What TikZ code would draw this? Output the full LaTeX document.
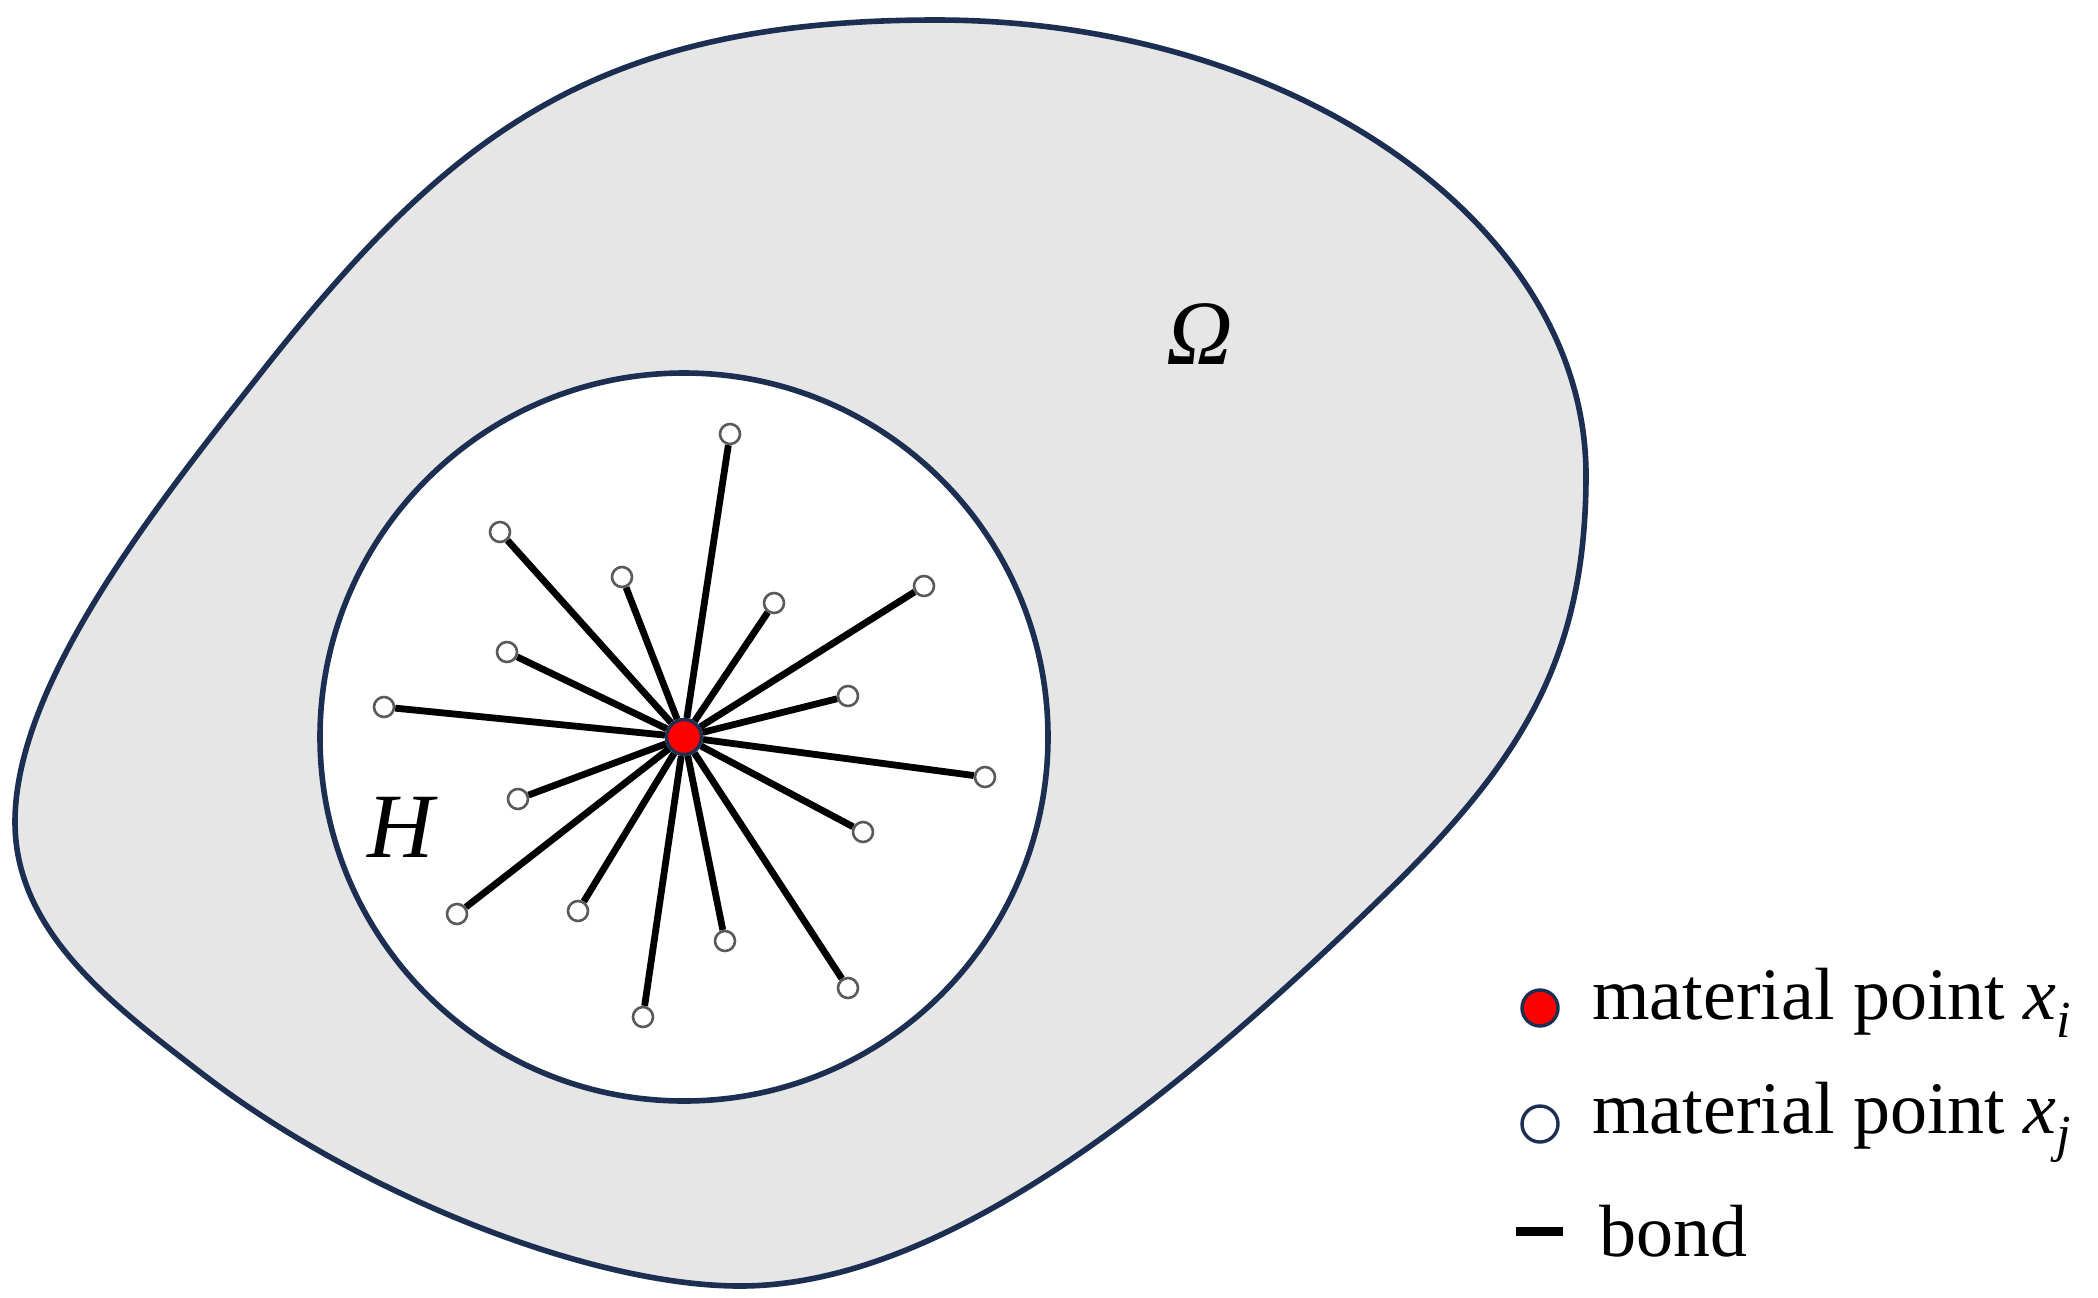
\documentclass[tikz,border=0pt]{standalone}
\usepackage{fontspec}
\setmainfont{Liberation Serif}
\definecolor{navy}{HTML}{1C2F52}
\definecolor{shade}{HTML}{E6E6E6}
\definecolor{ringgray}{HTML}{5A5A5A}
\begin{document}
\begin{tikzpicture}[x=0.5pt,y=-0.5pt,
  outline/.style={draw=navy,line width=2.8pt},
  bondline/.style={line width=3.4pt,black},
  jpt/.style={circle,draw=ringgray,fill=white,line width=1.3pt,minimum size=10pt,inner sep=0pt},
  ipt/.style={circle,draw=navy,fill=red,line width=1.7pt,minimum size=17.5pt,inner sep=0pt},
  legj/.style={circle,draw=navy,fill=white,line width=1.7pt,minimum size=18pt,inner sep=0pt},
  legi/.style={circle,draw=navy,fill=red,line width=1.7pt,minimum size=18pt,inner sep=0pt},
  legtext/.style={anchor=base west,inner sep=0pt,font=\fontsize{37}{40}\selectfont},
  region/.style={font=\fontsize{46}{50}\selectfont\itshape,inner sep=0pt}]
\useasboundingbox (0,0) rectangle (2098,1297);
\fill[white] (0,0) rectangle (2098,1297);
% outer domain
\draw[outline,fill=shade] (936,20) .. controls (1294,20) and (1586,225) .. (1586,475)
  .. controls (1586,662) and (1518,765) .. (1383,896)
  .. controls (1167,1106) and (940,1286) .. (740,1286)
  .. controls (590,1286) and (358,1194) .. (200,1072)
  .. controls (113,1005) and (15,932) .. (15,822)
  .. controls (15,680) and (163,497) .. (268,364)
  .. controls (454,130) and (600,20) .. (936,20) -- cycle;
% horizon
\draw[outline,fill=white] (684,737) circle (182pt);
% material points
\node[ipt] (c) at (684,737) {};
\node[jpt] (p1) at (500,532) {};
\node[jpt] (p2) at (622,577) {};
\node[jpt] (p3) at (507,652) {};
\node[jpt] (p4) at (384,707) {};
\node[jpt] (p5) at (730,434) {};
\node[jpt] (p6) at (774,603) {};
\node[jpt] (p7) at (924,586) {};
\node[jpt] (p8) at (848,696) {};
\node[jpt] (p9) at (985,777) {};
\node[jpt] (p10) at (863,832) {};
\node[jpt] (p11) at (725,941) {};
\node[jpt] (p12) at (848,988) {};
\node[jpt] (p13) at (518,799) {};
\node[jpt] (p14) at (457,914) {};
\node[jpt] (p15) at (578,911) {};
\node[jpt] (p16) at (643,1017) {};
\foreach \k in {1,...,16} \draw[bondline] (c) -- (p\k);
% labels
\node[region] (H) at (401,827) {H};
\node[region] (Om) at (1200,334) {Ω};
% legend
\node[legi] (li) at (1540,1008) {};
\node[legj] (lj) at (1540,1124) {};
\coordinate (lb1) at (1516,1231);
\coordinate (lb2) at (1563,1231);
\draw[line width=4.5pt] (lb1) -- (lb2);
\node[legtext] (t1) at (1592,1019) {material point \textit{x}\raisebox{-0.25em}{\fontsize{26}{28}\selectfont\itshape i}};
\node[legtext] (t2) at (1592,1133) {material point \textit{x}\raisebox{-0.25em}{\fontsize{26}{28}\selectfont\itshape j}};
\node[legtext] (t3) at (1599,1256) {bond};
\end{tikzpicture}
\end{document}
